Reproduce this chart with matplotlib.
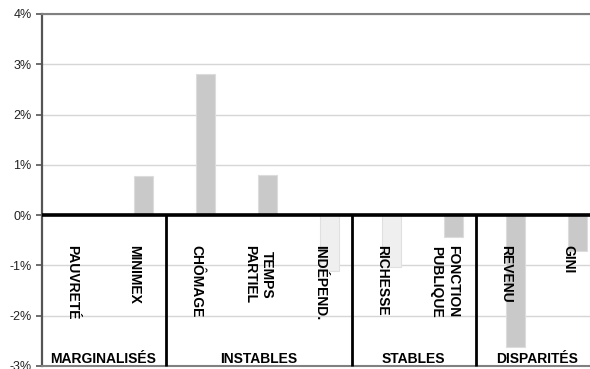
import matplotlib
matplotlib.use("Agg")
import matplotlib.pyplot as plt
from matplotlib.ticker import FuncFormatter

plt.rcParams['font.family'] = ['Liberation Sans', 'DejaVu Sans']

# Indicator names and their change (in %)
categories = ["PAUVRETÉ", "MINIMEX", "CHÔMAGE", "TEMPS\nPARTIEL", "INDÉPEND.",
              "RICHESSE", "FONCTION\nPUBLIQUE", "REVENU", "GINI"]
values = [0.0, 0.78, 2.8, 0.8, -1.12, -1.03, -0.43, -2.62, -0.72]
light = [False, False, False, False, True, True, False, False, False]

# Groups: (label, first category index, number of categories)
group_names = ["MARGINALISÉS", "INSTABLES", "STABLES", "DISPARITÉS"]
group_starts = [0, 2, 5, 7]
group_sizes = [2, 3, 2, 2]

yticks = [-3, -2, -1, 0, 1, 2, 3, 4]

W, H = 590, 369
fig = plt.figure(figsize=(W / 100, H / 100), dpi=100)
ax = fig.add_axes([41.5 / W, 3 / H, 558 / W, 352 / H])

n = len(categories)
ax.set_xlim(0, n)
ax.set_ylim(-3, 4)

# Bars sit right of centre within each category slot
for i, (v, lt) in enumerate(zip(values, light)):
    if lt:
        fc, ec = "#efefef", "#e0e0e0"
    else:
        fc, ec = "#c9c9c9", "#dcdcdc"
    ax.bar(i + 0.645, v, width=0.30, color=fc, edgecolor=ec, linewidth=0.8, zorder=3)

# Gridlines
ax.set_yticks(yticks)
ax.yaxis.set_major_formatter(FuncFormatter(lambda v, p: f"{int(round(v))}%"))
ax.grid(axis='y', color="#d6d6d6", linewidth=1.0, zorder=0)
ax.set_axisbelow(True)
ax.set_xticks([])

ax.tick_params(axis='y', direction='out', length=4, width=1.2, color="#555555",
               labelsize=9, labelcolor="#222222", pad=3)

for side in ["top", "bottom"]:
    ax.spines[side].set_color("#808080")
    ax.spines[side].set_linewidth(1.5)
ax.spines["right"].set_visible(False)
ax.spines["left"].set_color("#555555")
ax.spines["left"].set_linewidth(1.6)

# Zero line
ax.axhline(0, color="black", linewidth=2.6, zorder=5)

# Group separators
for s in group_starts[1:]:
    ax.plot([s, s], [0, -3], color="black", linewidth=2.0, zorder=5,
            solid_capstyle='butt', clip_on=False)

# Category labels, vertical, reading top to bottom
for i, c in enumerate(categories):
    ax.text(i + 0.5, -0.6, c, rotation=270, ha='center', va='top',
            multialignment='center', fontsize=10, fontweight='bold',
            color="black", linespacing=1.3, zorder=6)

# Group labels
for name, s, k in zip(group_names, group_starts, group_sizes):
    ax.text(s + k / 2, -2.87, name, ha='center', va='center',
            fontsize=10, fontweight='bold', color="black", zorder=6)

fig.savefig("out.png", dpi=100)
